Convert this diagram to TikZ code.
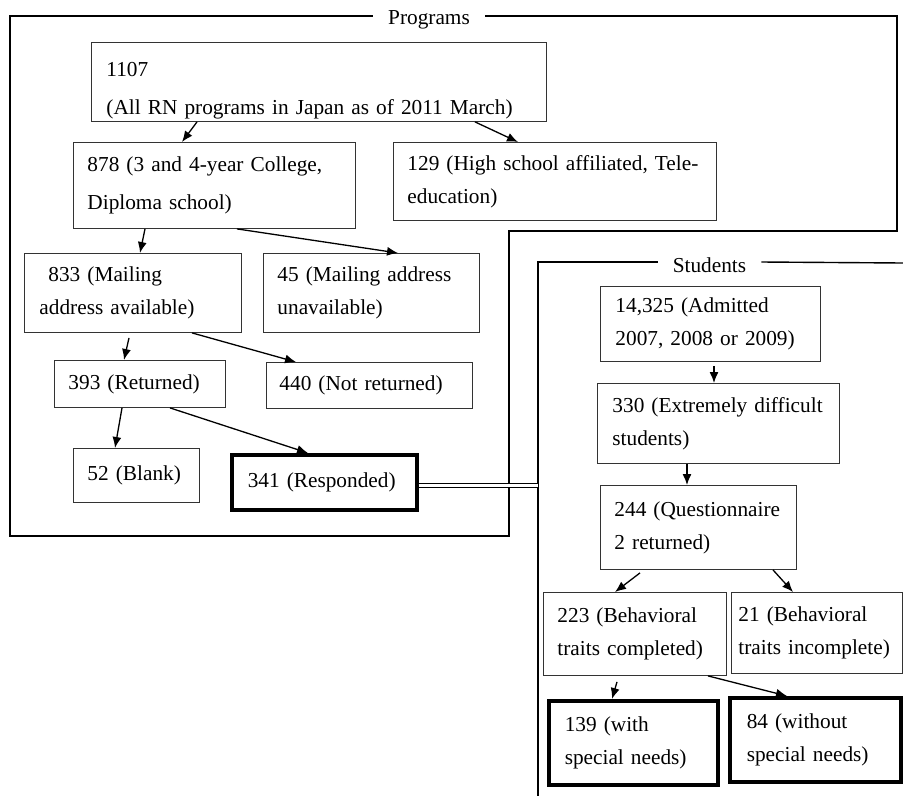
\documentclass[tikz,border=0pt]{standalone}
\usepackage{fontspec}
\setmainfont{Liberation Serif}
\usepackage{tikz}
\usetikzlibrary{arrows.meta, calc}

\tikzset{
  box/.style={draw=black!80, line width=0.9pt, anchor=north west, align=left, inner ysep=0pt},
  thickbox/.style={box, draw=black, line width=3.5pt},
  flow/.style={line width=1.3pt, -{Latex[length=11pt, width=9pt]}},
  frame/.style={line width=1.4pt},
  frametitle/.style={inner xsep=15pt, inner ysep=2pt}
}

\begin{document}
\begin{tikzpicture}[x=1pt, y=-1pt, font=\fontsize{21.3}{33}\selectfont]
    \useasboundingbox (0,0) rectangle (903,796);

    % programs
    \node[frametitle] (ptitle) at (429,20) {Programs};
    \draw[frame] ([yshift=4]ptitle.west) -| (10,536) -- (509,536) |- (897,231) |- ([yshift=4]ptitle.east);

    \node[box, inner xsep=15pt, text width=425pt, minimum height=79pt, font=\fontsize{21.3}{38}\selectfont] (p1107) at (91,42)
      {\rule{0pt}{31pt}1107\\(All RN programs in Japan as of 2011 March)};
    \node[box, inner xsep=14pt, text width=254pt, minimum height=86pt, font=\fontsize{21.3}{38}\selectfont] (p878) at (73,142)
      {878 (3 and 4-year College,\\Diploma school)};
    \node[box, inner xsep=14pt, text width=295pt, minimum height=78pt] (p129) at (393,142)
      {129 (High school affiliated, Tele-\\education)};
    \node[box, inner xsep=15pt, text width=187pt, minimum height=79pt] (p833) at (24,253)
      {\hspace*{9pt}833 (Mailing\\address available)};
    \node[box, inner xsep=14pt, text width=188pt, minimum height=79pt] (p45) at (263,253)
      {45 (Mailing address\\unavailable)};
    \node[box, inner xsep=14pt, text width=143pt, minimum height=47pt] (p393) at (54,360) {393 (Returned)};
    \node[box, inner xsep=13pt, text width=180pt, minimum height=46pt] (p440) at (266,362) {440 (Not returned)};
    \node[box, inner xsep=14pt, text width=98pt, minimum height=54pt] (p52) at (73,448) {52 (Blank)};
    \node[thickbox, inner xsep=16pt, text width=153pt, minimum height=55pt] (p341) at (230,453) {341 (Responded)};

    \draw[flow] ([xshift=106]p1107.south west) -- ([xshift=109]p878.north west);
    \draw[flow] ([xshift=384]p1107.south west) -- ([xshift=125]p129.north west);
    \draw[flow] ([xshift=72]p878.south west) -- ([xshift=116]p833.north west);
    \draw[flow] ([xshift=164]p878.south west) -- ([xshift=135]p45.north west);
    \draw[flow] ([xshift=105, yshift=-5]p833.south west) -- ([xshift=70]p393.north west);
    \draw[flow] ([xshift=168]p833.south west) -- ([xshift=30]p440.north west);
    \draw[flow] ([xshift=68]p393.south west) -- ([xshift=42]p52.north west);
    \draw[flow] ([xshift=116]p393.south west) -- ([xshift=78]p341.north west);

    % students
    \node[frametitle] (stitle) at (709.5,265) {Students};
    \coordinate (sleft) at (538,263);
    \draw[frame] ([yshift=3]stitle.west) -| (538,796);
    \draw[frame] ([yshift=3]stitle.east) -- (903,263);

    \node[box, inner xsep=15pt, text width=190pt, minimum height=75pt] (s14325) at (600,286)
      {14,325 (Admitted\\2007, 2008 or 2009)};
    \node[box, inner xsep=15pt, text width=212pt, minimum height=80pt] (s330) at (597,383)
      {330 (Extremely difficult\\students)};
    \node[box, inner xsep=14pt, text width=168pt, minimum height=84pt] (s244) at (600,485)
      {244 (Questionnaire\\2 returned)};
    \node[box, inner xsep=14pt, text width=155pt, minimum height=83pt] (s223) at (543,592)
      {223 (Behavioral\\traits completed)};
    \node[box, inner xsep=7pt, text width=157pt, minimum height=81pt] (s21) at (731,592)
      {21 (Behavioral\\traits incomplete)};
    \node[thickbox, inner xsep=16pt, text width=137pt, minimum height=84pt] (s139) at (547,699)
      {139 (with\\special needs)};
    \node[thickbox, inner xsep=17pt, text width=137pt, minimum height=84pt] (s84) at (728,696)
      {84 (without\\special needs)};

    \draw[flow] ([xshift=114, yshift=-4]s14325.south west) -- ([xshift=117]s330.north west);
    \draw[flow] ([xshift=90]s330.south west) -- ([xshift=87]s244.north west);
    \draw[flow] ([xshift=40, yshift=-3]s244.south west) -- ([xshift=72]s223.north west);
    \draw[flow] ([xshift=173]s244.south west) -- ([xshift=62]s21.north west);
    \draw[flow] ([xshift=74, yshift=-6]s223.south west) -- ([xshift=65]s139.north west);
    \draw[flow] ([xshift=165]s223.south west) -- ([xshift=59]s84.north west);

    % link between the two groups
    \draw[double, double distance=3.2pt, line width=1pt] ([yshift=-3]p341.east) -- ([yshift=-3]p341.east -| sleft);
\end{tikzpicture}
\end{document}
